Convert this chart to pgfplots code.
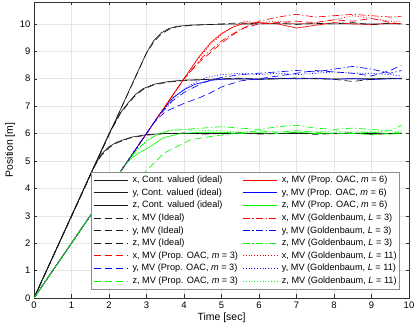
\documentclass[border=0pt]{standalone}
\usepackage{fontspec}
\setmainfont{Liberation Sans}
\usepackage{pgfplots}
\pgfplotsset{compat=1.18}

\definecolor{mred}{rgb}{1,0,0}
\definecolor{mblue}{rgb}{0,0,1}
\definecolor{mgreen}{rgb}{0,1,0}
\definecolor{mblack}{rgb}{0.1,0.1,0.1}

\tikzset{
  ldash/.style={dash pattern=on 7bp off 4bp},
  ldashdot/.style={dash pattern=on 7bp off 2.5bp on 1.2bp off 2.5bp},
  ldot/.style={dash pattern=on 1bp off 1.8bp},
}

\begin{document}
\begin{tikzpicture}
\begin{axis}[
  name=ax,
  scale only axis,
  width=375bp, height=296bp,
  xmin=0, xmax=10, ymin=0, ymax=10.8,
  xtick={0,1,...,10}, ytick={0,1,...,10},
  grid=major,
  major grid style={color=black!10, line width=0.5pt},
  axis line style={color=black!80, line width=0.5pt},
  tick style={color=black!80},
  major tick length=3.5bp,
  tick align=inside,
  ticklabel style={font=\fontsize{9.5}{11}\selectfont},
  /pgf/number format/assume math mode=true,
  xlabel={Time [sec]},
  ylabel={Position [m]},
  label style={font=\fontsize{10.5}{12}\selectfont},
  xlabel style={yshift=2bp},
  ylabel style={yshift=-2bp},
  every axis plot/.append style={line width=0.65pt},
  legend columns=2,
  legend cell align=left,
  legend image code/.code={\draw[#1] (0bp,0bp) -- (34bp,0bp);},
  legend style={
    at={(0.976,0.03)}, anchor=south east,
    font=\fontsize{9.2}{11}\selectfont,
    draw=black!45, line width=0.6pt, fill=white,
    inner sep=1.5bp,
    column sep=3bp,
    nodes={inner sep=1.6bp, text height=7.2bp, text depth=2.2bp},
  },
]

% x, Cont. valued (ideal)
\addplot[color=mblack] coordinates {(0,0)(3.0,8.95)(3.2,9.4)(3.4,9.68)(3.6,9.83)(3.8,9.91)(4.2,9.96)(5,9.99)(6,10.0)(9.8,10.0)};
\addlegendentry{x, Cont. valued (ideal)}
% x, MV (Prop. OAC, m=6)
\addplot[color=mred] coordinates {(0,0)(4.4,8.8)(4.7,9.3)(5.0,9.65)(5.3,9.88)(5.6,10.02)(6,10.05)(6.5,10.0)(7,9.85)(7.5,9.95)(8,10.05)(8.5,10.0)(9,9.98)(9.5,10.02)(9.8,10.0)};
\addlegendentry{x, MV (Prop. OAC, \textit{m} = 6)}

% y, Cont. valued (ideal)
\addplot[color=mblack] coordinates {(0,0)(2.0,6.0)(2.3,6.75)(2.5,7.1)(2.7,7.42)(2.9,7.63)(3.2,7.8)(3.6,7.9)(4,7.95)(5,7.99)(9.8,8.0)};
\addlegendentry{y, Cont. valued (ideal)}
% y, MV (Prop. OAC, m=6)
\addplot[color=mblue] coordinates {(0,0)(3.4,6.8)(3.7,7.3)(4,7.6)(4.3,7.8)(4.7,7.94)(5,7.98)(5.5,8.0)(6,7.98)(6.5,8.02)(7,8.0)(7.5,8.02)(8,7.98)(8.5,8.0)(9,7.97)(9.5,8.0)(9.8,8.02)};
\addlegendentry{y, MV (Prop. OAC, \textit{m} = 6)}

% z, Cont. valued (ideal)
\addplot[color=mblack] coordinates {(0,0)(1.6,4.8)(1.8,5.25)(2.0,5.52)(2.2,5.68)(2.4,5.78)(2.6,5.87)(3.0,5.96)(3.5,6.0)(9.8,6.0)};
\addlegendentry{z, Cont. valued (ideal)}
% z, MV (Prop. OAC, m=6)
\addplot[color=mgreen] coordinates {(0,0)(2.4,4.8)(2.6,5.1)(2.8,5.3)(3.1,5.52)(3.45,5.85)(3.9,6.0)(4.5,6.05)(5,6.05)(5.5,6.0)(6,6.03)(6.5,6.0)(7,6.05)(7.5,6.0)(8,6.02)(8.5,6.0)(9,6.05)(9.5,5.98)(9.8,6.0)};
\addlegendentry{z, MV (Prop. OAC, \textit{m} = 6)}

% x, MV (Ideal)
\addplot[color=mblack, ldash] coordinates {(0,0)(3.0,8.93)(3.2,9.35)(3.4,9.64)(3.6,9.8)(3.8,9.89)(4.2,9.95)(5,10.0)(5.5,10.04)(6,10.0)(6.5,10.03)(7,9.98)(7.5,10.02)(8,10.0)(8.5,10.05)(9,9.97)(9.5,10.03)(9.8,10.0)};
\addlegendentry{x, MV (Ideal)}
% x, MV (Goldenbaum, L=3)
\addplot[color=mred, ldashdot] coordinates {(0,0)(4.0,8.0)(4.5,8.8)(5,9.38)(5.5,9.8)(6,10.1)(6.5,10.25)(7,10.35)(7.5,10.25)(8,10.3)(8.5,10.35)(9,10.3)(9.5,10.25)(9.8,10.28)};
\addlegendentry{x, MV (Goldenbaum, \textit{L} = 3)}

% y, MV (Ideal)
\addplot[color=mblack, ldash] coordinates {(0,0)(2.0,5.98)(2.3,6.72)(2.5,7.07)(2.7,7.38)(2.9,7.6)(3.2,7.78)(3.6,7.88)(4,7.93)(4.5,7.97)(5,8.0)(5.5,8.02)(6,7.98)(6.5,8.0)(7,8.03)(7.5,8.0)(8,7.98)(8.5,7.9)(9,7.98)(9.5,8.02)(9.8,8.0)};
\addlegendentry{y, MV (Ideal)}
% y, MV (Goldenbaum, L=3)
\addplot[color=mblue, ldashdot] coordinates {(0,0)(3.3,6.6)(3.7,7.2)(4,7.5)(4.5,7.85)(5,8.05)(5.5,8.15)(6,8.2)(6.5,8.25)(7,8.3)(7.5,8.25)(8,8.35)(8.5,8.45)(9,8.35)(9.5,8.2)(9.8,8.3)};
\addlegendentry{y, MV (Goldenbaum, \textit{L} = 3)}

% z, MV (Ideal)
\addplot[color=mblack, ldash] coordinates {(0,0)(1.6,4.78)(1.8,5.2)(2.0,5.48)(2.2,5.65)(2.4,5.76)(2.6,5.85)(3,5.94)(3.5,6.0)(4,6.02)(4.5,5.98)(5,6.0)(5.5,6.03)(6,5.98)(6.5,6.0)(7,6.02)(7.5,5.97)(8,6.0)(8.5,6.03)(9,5.97)(9.5,6.0)(9.8,6.02)};
\addlegendentry{z, MV (Ideal)}
% z, MV (Goldenbaum, L=3)
\addplot[color=mgreen, ldashdot] coordinates {(0,0)(2.4,4.8)(2.8,5.5)(3.2,5.9)(3.6,6.1)(4,6.15)(4.5,6.2)(5,6.25)(5.5,6.2)(6,6.15)(6.5,6.25)(7,6.3)(7.5,6.2)(8,6.15)(8.5,6.2)(9,6.15)(9.5,6.1)(9.8,6.3)};
\addlegendentry{z, MV (Goldenbaum, \textit{L} = 3)}

% x, MV (Prop. OAC, m=3)
\addplot[color=mred, ldash] coordinates {(0,0)(4.0,8.0)(4.4,8.6)(4.7,8.95)(5,9.3)(5.3,9.6)(5.6,9.85)(6,10.0)(6.5,10.05)(7,10.1)(7.5,10.05)(8,10.15)(8.5,10.1)(9,10.2)(9.5,10.05)(9.8,10.0)};
\addlegendentry{x, MV (Prop. OAC, \textit{m} = 3)}
% x, MV (Goldenbaum, L=11)
\addplot[color=mred, ldot] coordinates {(0,0)(4.3,8.6)(4.7,9.25)(5,9.6)(5.3,9.9)(5.6,10.1)(6,10.05)(6.5,10.1)(7,10.0)(7.5,10.05)(8,10.15)(8.5,10.3)(9,10.2)(9.5,10.1)(9.8,10.1)};
\addlegendentry{x, MV (Goldenbaum, \textit{L} = 11)}

% y, MV (Prop. OAC, m=3)
\addplot[color=mblue, ldash] coordinates {(0,0)(3.2,6.4)(3.5,6.8)(4,7.1)(4.4,7.3)(4.7,7.48)(5,7.7)(5.5,7.92)(6,8.0)(6.5,8.1)(7,8.2)(7.5,8.3)(8,8.25)(8.5,8.2)(9,8.1)(9.5,8.3)(9.8,8.5)};
\addlegendentry{y, MV (Prop. OAC, \textit{m} = 3)}
% y, MV (Goldenbaum, L=11)
\addplot[color=mblue, ldot] coordinates {(0,0)(3.4,6.8)(3.8,7.4)(4.2,7.8)(4.6,8.05)(5,8.15)(5.5,8.2)(6,8.15)(6.5,8.2)(7,8.15)(7.5,8.2)(8,8.25)(8.5,8.2)(9,8.2)(9.5,8.15)(9.8,8.1)};
\addlegendentry{y, MV (Goldenbaum, \textit{L} = 11)}

% z, MV (Prop. OAC, m=3)
\addplot[color=mgreen, ldash] coordinates {(0,0)(1.5,3.0)(2.0,3.55)(2.3,3.8)(2.6,4.15)(2.93,4.55)(3.46,5.28)(4.17,5.77)(4.7,5.89)(5.2,5.98)(5.6,6.05)(6,6.1)(6.5,6.05)(7,6.1)(7.5,6.05)(8,6.0)(8.5,6.02)(9,5.95)(9.5,6.0)(9.8,6.05)};
\addlegendentry{z, MV (Prop. OAC, \textit{m} = 3)}
% z, MV (Goldenbaum, L=11)
\addplot[color=mgreen, ldot] coordinates {(0,0)(2.2,4.4)(2.6,5.2)(3.0,5.75)(3.4,6.05)(3.8,6.17)(4.3,6.12)(5,6.1)(5.5,6.05)(6,6.1)(6.5,6.05)(7,6.1)(7.5,6.05)(8,6.1)(8.5,6.05)(9,6.1)(9.5,6.05)(9.8,6.1)};
\addlegendentry{z, MV (Goldenbaum, \textit{L} = 11)}

\end{axis}
\pgfresetboundingbox
\path[use as bounding box] ([xshift=-34bp,yshift=-37bp]ax.south west) rectangle ([xshift=6bp,yshift=2bp]ax.north east);
\end{tikzpicture}
\end{document}
